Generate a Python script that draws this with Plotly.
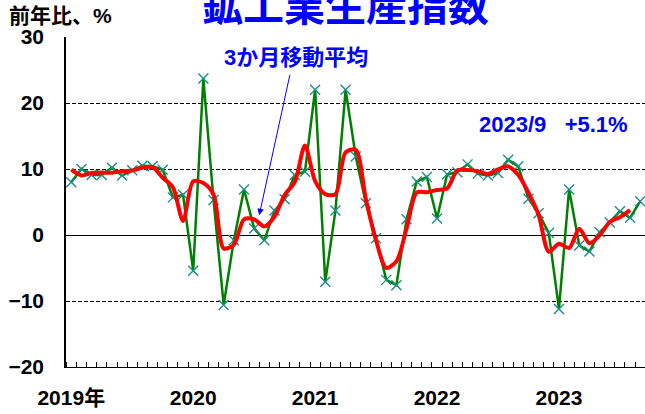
import plotly.graph_objects as go

# Monthly data, 2019/1 .. 2023/9 (year-on-year %)
months = [f"{y}/{m}" for y in range(2019, 2024) for m in range(1, 13)][:57]
yoy = [8.0, 10.0, 9.1, 9.1, 10.2, 9.0, 9.8, 10.5, 10.4, 9.9, 5.7, 6.1,
       -5.4, 23.7, 5.3, -10.6, -0.8, 6.9, 1.0, -0.8, 3.7, 5.4, 9.1, 9.6,
       22.0, -7.1, 3.7, 22.0, 11.9, 4.8, -0.5, -6.8, -7.6, 2.4, 8.1, 8.8,
       2.5, 9.2, 9.5, 10.7, 9.3, 9.0, 9.4, 11.4, 10.4, 5.5, 3.3, 0.3,
       -11.2, 6.9, -1.6, -2.5, 0.4, 1.9, 3.6, 2.6, 5.1]
# 3-month moving average (centred)
ma3 = [9.9, 9.03, 9.4, 9.47, 9.43, 9.67, 9.77, 10.23, 10.27, 8.67, 7.23, 2.13,
       8.13, 7.87, 6.13, -2.03, -1.5, 2.37, 2.37, 1.3, 2.77, 6.07, 8.03, 13.57,
       8.17, 6.2, 6.2, 12.53, 12.9, 5.4, -0.83, -4.97, -4.0, 0.97, 6.43, 6.47,
       6.83, 7.07, 9.8, 9.83, 9.67, 9.23, 9.93, 10.4, 9.1, 6.4, 3.03, -2.53,
       -1.33, -1.97, 0.93, -1.23, -0.07, 1.97, 2.7, 3.77]

year_labels = ["2019年", "2020", "2021", "2022", "2023"]
year_pos = [months.index(f"{y}/1") for y in (2019, 2020, 2021, 2022, 2023)]
y_ticks = [-20, -10, 0, 10, 20, 30]

x_all = list(range(len(months)))
x_ma = list(range(len(ma3)))

W, H = 645, 414
L, R, T, B = 66, 0, 37, 47
PW, PH = W - L - R, H - T - B

def px(xp):
    return (xp - L) / PW

def py(yp):
    return 1 + (T - yp) / PH

fig = go.Figure()
fig.add_trace(go.Scatter(
    x=x_all, y=yoy, mode="lines+markers",
    line=dict(color="#008000", width=2.5),
    marker=dict(symbol="x-thin", size=10, line=dict(color="#1e8c8c", width=1.4), color="#1e8c8c"),
    hoverinfo="skip", showlegend=False))
fig.add_trace(go.Scatter(
    x=x_ma, y=ma3, mode="lines",
    line=dict(color="#ff0000", width=4, shape="spline", smoothing=0.8),
    hoverinfo="skip", showlegend=False))

bold = "Liberation Sans"
cjk = "Noto Sans CJK JP"

fig.update_layout(
    width=W, height=H,
    margin=dict(l=L, r=R, t=T, b=B, pad=0),
    paper_bgcolor="white", plot_bgcolor="white",
    xaxis=dict(
        range=[-0.52, 56.47],
        tickmode="array", tickvals=year_pos, ticktext=year_labels,
        ticks="", showgrid=False, zeroline=False,
        showline=True, linecolor="black", linewidth=1.2,
        tickfont=dict(family=f"{bold}, {cjk}", size=21, color="black", weight="bold"),
        ticklabelstandoff=12,
        minor=dict(tick0=0.5, dtick=1, ticks="inside", ticklen=5,
                   tickcolor="black", tickwidth=1, showgrid=False),
    ),
    yaxis=dict(
        range=[-20, 30], tickmode="array", tickvals=y_ticks,
        ticktext=[str(v) if v >= 0 else "\u2212" + str(-v) for v in y_ticks],
        ticks="", showgrid=True, gridcolor="black", gridwidth=1, griddash="4px,2px",
        zeroline=True, zerolinecolor="black", zerolinewidth=1.2,
        showline=True, linecolor="black", linewidth=1.5,
        tickfont=dict(family=bold, size=21, color="black", weight="bold"),
        ticklabelstandoff=16,
    ),
    annotations=[
        dict(text="鉱工業生産指数", xref="paper", yref="paper", x=px(345), y=py(3),
             xanchor="center", yanchor="middle", showarrow=False,
             font=dict(family=cjk, size=41, color="#0000ff", weight="bold")),
        dict(text="前年比、%", xref="paper", yref="paper", x=px(7), y=py(15),
             xanchor="left", yanchor="middle", showarrow=False,
             font=dict(family=f"{bold}, {cjk}", size=21, color="black", weight="bold")),
        dict(text="3か月移動平均", xref="paper", yref="paper", x=px(296), y=py(58),
             xanchor="center", yanchor="middle", showarrow=False,
             font=dict(family=f"{bold}, {cjk}", size=22, color="#0000ff", weight="bold")),
        dict(text="2023/9\u00a0\u00a0\u00a0+5.1%", xref="paper", yref="paper", x=px(553.5), y=py(124),
             xanchor="center", yanchor="middle", showarrow=False,
             font=dict(family=bold, size=22, color="#0000ff", weight="bold")),
        dict(text="", xref="x", yref="y", x=18.5, y=3.0, ax=31, ay=-142,
             showarrow=True, arrowhead=2, arrowsize=1.3, arrowwidth=1, arrowcolor="#0000ff"),
    ],
)

fig.write_html("out.html", config={"displayModeBar": False},
               post_script="document.body.style.margin='0';document.body.style.overflow='hidden';")
